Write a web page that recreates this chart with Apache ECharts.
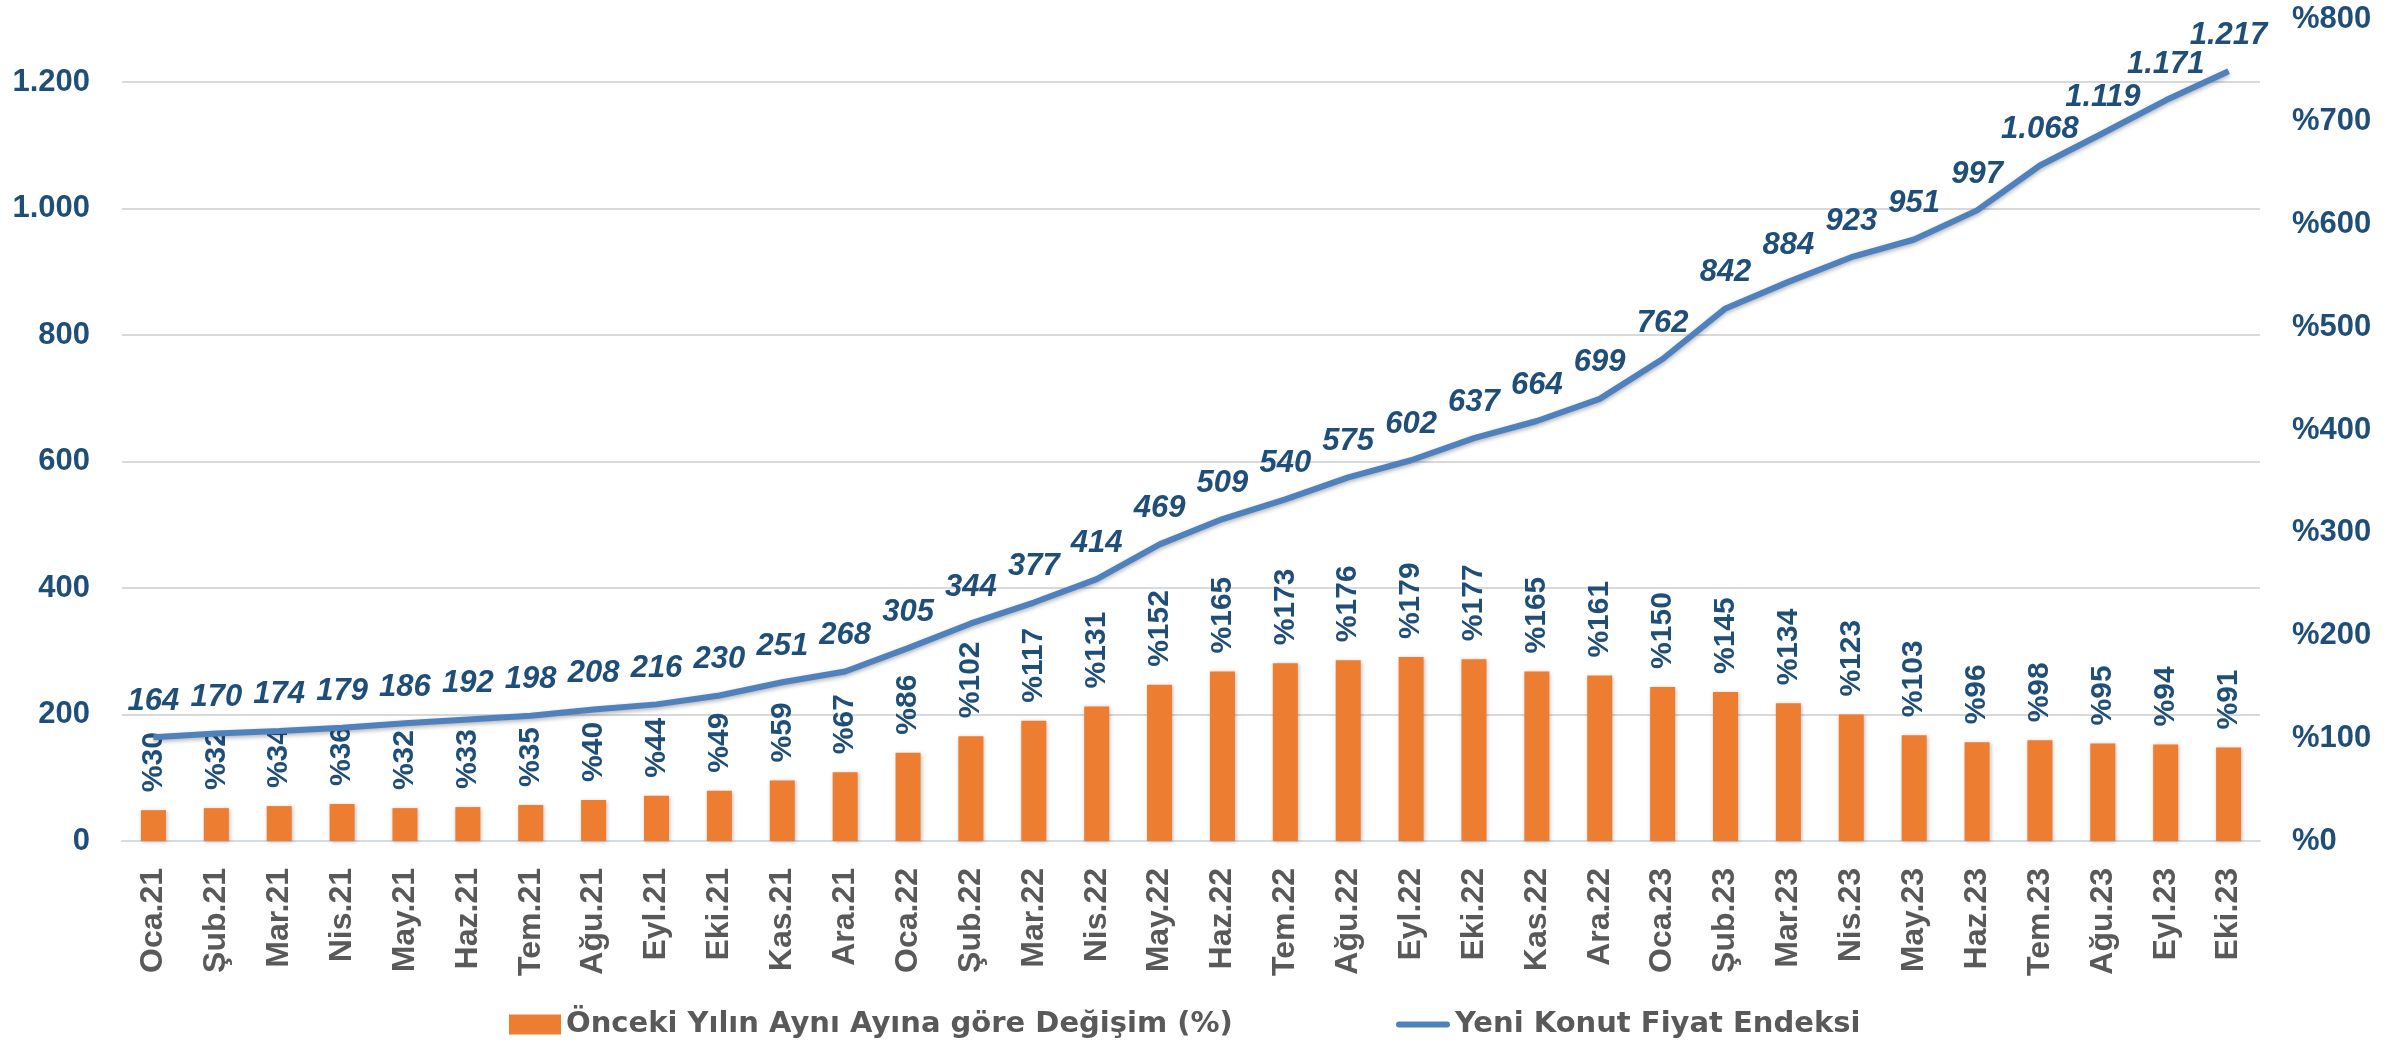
<!DOCTYPE html>
<html>
<head>
<meta charset="utf-8">
<title>Yeni Konut Fiyat Endeksi</title>
<script src="https://cdn.jsdelivr.net/npm/echarts@6.0.0/dist/echarts.min.js"></script>
<style>
  html, body { margin: 0; padding: 0; background: #fff; }
  #main { width: 2402px; height: 1046px; }
</style>
</head>
<body>
<div id="main"></div>
<script>
// aylar
const months = ['Oca.21', 'Şub.21', 'Mar.21', 'Nis.21', 'May.21', 'Haz.21', 'Tem.21', 'Ağu.21', 'Eyl.21', 'Eki.21', 'Kas.21', 'Ara.21',
  'Oca.22', 'Şub.22', 'Mar.22', 'Nis.22', 'May.22', 'Haz.22', 'Tem.22', 'Ağu.22', 'Eyl.22', 'Eki.22', 'Kas.22', 'Ara.22',
  'Oca.23', 'Şub.23', 'Mar.23', 'Nis.23', 'May.23', 'Haz.23', 'Tem.23', 'Ağu.23', 'Eyl.23', 'Eki.23']
// yeni konut fiyat endeksi (sol eksen)
const indexValues = [164, 170, 174, 179, 186, 192, 198, 208, 216, 230, 251, 268,
  305, 344, 377, 414, 469, 509, 540, 575, 602, 637, 664, 699,
  762, 842, 884, 923, 951, 997, 1068, 1119, 1171, 1217]
// önceki yılın aynı ayına göre değişim % (sağ eksen)
const yearlyChange = [30, 32, 34, 36, 32, 33, 35, 40, 44, 49, 59, 67,
  86, 102, 117, 131, 152, 165, 173, 176, 179, 177, 165, 161,
  150, 145, 134, 123, 103, 96, 98, 95, 94, 91]
const leftTicks = [0, 1200, 200]   // min, max, interval
const rightTicks = [0, 800, 100]

const barName = 'Önceki Yılın Aynı Ayına göre Değişim (%)'
const lineName = 'Yeni Konut Fiyat Endeksi'

const FONT = '"Liberation Sans", Arial, sans-serif'
const WIDE = '"DejaVu Sans", sans-serif'
const navy = '#1F4E79'
const gray = '#595959'

// binlik ayırıcı nokta
function fmt(v) {
  return String(v).replace(/\B(?=(\d{3})+(?!\d))/g, '.')
}

const chart = echarts.init(document.getElementById('main'))

const legendText = { color: gray, fontSize: 29, fontWeight: 'bold', fontFamily: WIDE }

const option = {
  animation: false,
  backgroundColor: '#fff',
  textStyle: { fontFamily: FONT },
  // grid 0: çizgi + sol eksen, grid 1: sütunlar + sağ eksen (aynı taban)
  grid: [
    { left: 122, right: 142, top: 82, bottom: 205 },
    { left: 122, right: 142, top: 19, bottom: 205 },
  ],
  // iki ayrı lejant, her biri kendi yerinde
  legend: [
    {
      left: 504,
      top: 1005,
      itemWidth: 52,
      itemHeight: 20,
      textStyle: legendText,
      data: [{ name: barName, icon: 'rect' }],
    },
    {
      left: 1391,
      top: 1005,
      itemWidth: 54,
      itemHeight: 20,
      textStyle: legendText,
      data: [{ name: lineName, icon: 'path://M3,0 L51,0 A3,3 0 0 1 51,6 L3,6 A3,3 0 0 1 3,0 Z' }],
    },
  ],
  xAxis: [
    {
      type: 'category',
      gridIndex: 0,
      data: months,
      show: false,
    },
    {
      type: 'category',
      gridIndex: 1,
      data: months,
      axisLine: { lineStyle: { color: '#D6DCE5', width: 2 } },
      axisTick: { show: false },
      axisLabel: {
        rotate: 90,
        margin: 27,
        color: gray,
        fontSize: 32,
        fontWeight: 'bold',
        fontFamily: FONT,
        interval: 0,
      },
    },
  ],
  yAxis: [
    {
      type: 'value',
      gridIndex: 0,
      position: 'left',
      min: leftTicks[0],
      max: leftTicks[1],
      interval: leftTicks[2],
      axisLine: { show: false },
      axisTick: { show: false },
      splitLine: { lineStyle: { color: '#D9D9D9', width: 2 } },
      axisLabel: {
        margin: 32,
        color: navy,
        fontSize: 31,
        fontWeight: 'bold',
        fontFamily: FONT,
        formatter: fmt,
      },
    },
    {
      type: 'value',
      gridIndex: 1,
      position: 'right',
      min: rightTicks[0],
      max: rightTicks[1],
      interval: rightTicks[2],
      axisLine: { show: false },
      axisTick: { show: false },
      splitLine: { show: false },
      axisLabel: {
        margin: 32,
        color: navy,
        fontSize: 31,
        fontWeight: 'bold',
        fontFamily: FONT,
        formatter: v => '%' + v,
      },
    },
  ],
  series: [
    {
      name: barName,
      type: 'bar',
      xAxisIndex: 1,
      yAxisIndex: 1,
      barWidth: 25,
      data: yearlyChange,
      itemStyle: {
        color: '#ED7D31',
        shadowColor: 'rgba(0,0,0,0.25)',
        shadowBlur: 4,
        shadowOffsetX: 1,
        shadowOffsetY: 1,
      },
      label: {
        show: true,
        position: 'top',
        distance: 18,
        rotate: 90,
        align: 'left',
        verticalAlign: 'middle',
        color: navy,
        fontSize: 30,
        fontWeight: 'bold',
        fontFamily: FONT,
        formatter: p => '%' + p.value,
      },
      z: 2,
    },
    {
      name: lineName,
      type: 'line',
      xAxisIndex: 0,
      yAxisIndex: 0,
      data: indexValues,
      clip: false,
      symbol: 'circle',
      symbolSize: 1,
      showSymbol: true,
      lineStyle: {
        color: '#4F81BD',
        width: 6,
        shadowColor: 'rgba(0,0,0,0.3)',
        shadowBlur: 4,
        shadowOffsetY: 2,
      },
      itemStyle: { color: '#4F81BD' },
      label: {
        show: true,
        position: 'top',
        distance: 20,
        color: navy,
        fontSize: 31,
        fontWeight: 'bold',
        fontStyle: 'italic',
        fontFamily: FONT,
        formatter: p => fmt(p.value),
      },
      z: 3,
    },
  ],
}

chart.setOption(option)
</script>
</body>
</html>
